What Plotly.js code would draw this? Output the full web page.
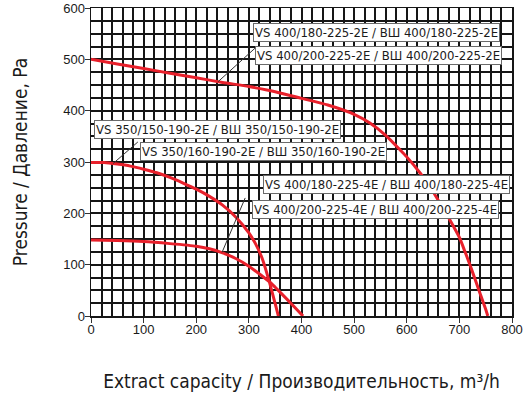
<!DOCTYPE html>
<html>
<head>
<meta charset="utf-8">
<script src="https://cdn.plot.ly/plotly-3.0.1.min.js"></script>
<style>html,body{margin:0;padding:0;background:#fff;}#chart{width:524px;height:400px;}</style>
</head>
<body>
<div id="chart"></div>
<script>
// Curve: VS 400/180-225-2E, VS 400/200-225-2E
const flow2E400 = [0, 50, 100, 150, 200, 250, 300, 350, 400, 450, 500, 530, 560, 587, 600, 625, 650, 663, 682, 700, 710, 720, 730, 740, 750, 754];
const pres2E400 = [500, 491, 482, 473, 464, 455, 447, 437, 424, 411, 393, 376, 352, 324, 310, 279, 242, 220, 187, 153, 127, 100, 71, 42, 13, 0];
// Curve: VS 350/150-190-2E, VS 350/160-190-2E
const flow2E350 = [0, 25, 50, 75, 100, 125, 150, 175, 200, 225, 250, 275, 300, 312, 325, 338, 350, 356];
const pres2E350 = [299, 299, 296, 292, 286, 279, 270, 259, 247, 233, 216, 193, 162, 142, 113, 70, 24, 0];
// Curve: VS 400/180-225-4E, VS 400/200-225-4E
const flow4E400 = [0, 50, 100, 150, 200, 225, 250, 275, 300, 325, 340, 350, 375, 400, 403];
const pres4E400 = [148, 147, 145, 141, 136, 131, 123, 112, 97, 78, 66, 56, 30, 3, 0];

const labels = [
  "VS 400/180-225-2E / ВШ 400/180-225-2E",
  "VS 400/200-225-2E / ВШ 400/200-225-2E",
  "VS 350/150-190-2E / ВШ 350/150-190-2E",
  "VS 350/160-190-2E / ВШ 350/160-190-2E",
  "VS 400/180-225-4E / ВШ 400/180-225-4E",
  "VS 400/200-225-4E / ВШ 400/200-225-4E"
];
const xTickVals = [0, 100, 200, 300, 400, 500, 600, 700, 800];
const yTickVals = [0, 100, 200, 300, 400, 500, 600];

const FONT = "'Liberation Sans Narrow', 'DejaVu Sans Condensed', 'Roboto Condensed', 'Arial Narrow', sans-serif";
const RED = '#e8202b';

const line = {color: RED, width: 3, shape: 'spline', smoothing: 0.6};
const traces = [
  {x: flow2E400, y: pres2E400, mode: 'lines', line: line, hoverinfo: 'skip'},
  {x: flow2E350, y: pres2E350, mode: 'lines', line: line, hoverinfo: 'skip'},
  {x: flow4E400, y: pres4E400, mode: 'lines', line: line, hoverinfo: 'skip'}
];

// label box placements [left x, center y] in data units
const boxPos = [[308, 552], [312, 507], [6, 364], [93, 321], [327, 257], [306, 208]];
const annotations = labels.map((t, i) => ({
  text: t, xref: 'x', yref: 'y', x: boxPos[i][0], y: boxPos[i][1],
  xanchor: 'left', yanchor: 'middle', showarrow: false,
  bgcolor: '#ffffff', bordercolor: '#6a6a6a', borderwidth: 1, borderpad: 1,
  font: {family: FONT, size: 13, color: '#1a1a1a'}
}));

const leader = {color: '#333', width: 1};
const shapes = [
  {type: 'line', xref: 'x', yref: 'y', x0: 312, y0: 522, x1: 241, y1: 456, line: leader},
  {type: 'line', xref: 'x', yref: 'y', x0: 89, y0: 339, x1: 42, y1: 297, line: leader},
  {type: 'line', xref: 'x', yref: 'y', x0: 293, y0: 230, x1: 249, y1: 124, line: leader}
];

const gridColor = '#161616';
const layout = {
  width: 524, height: 400,
  margin: {l: 91, r: 12, t: 8, b: 84},
  paper_bgcolor: '#fff', plot_bgcolor: '#fff',
  showlegend: false,
  font: {family: FONT, color: '#1a1a1a'},
  xaxis: {
    range: [0, 800], tickvals: xTickVals, ticktext: xTickVals.map(String),
    showgrid: true, gridcolor: gridColor, gridwidth: 2,
    minor: {dtick: 20, tick0: 0, showgrid: true, gridcolor: gridColor, gridwidth: 2},
    showline: true, linecolor: '#161616', linewidth: 1.5, mirror: true,
    ticks: 'outside', ticklen: 5, tickcolor: '#333', zeroline: false,
    ticklabelstandoff: -4,
    tickfont: {family: 'Liberation Sans, Arial, sans-serif', size: 13, color: '#1a1a1a'},
    title: {text: 'Extract capacity / Производительность, m³/h', standoff: 38,
            font: {family: FONT, size: 19, color: '#1a1a1a'}},
    fixedrange: true
  },
  yaxis: {
    range: [0, 600], tickvals: yTickVals, ticktext: yTickVals.map(String),
    showgrid: true, gridcolor: gridColor, gridwidth: 2,
    minor: {dtick: 25, tick0: 0, showgrid: true, gridcolor: gridColor, gridwidth: 2},
    showline: true, linecolor: '#161616', linewidth: 1.5, mirror: true,
    ticks: 'outside', ticklen: 5, tickcolor: '#333', zeroline: false,
    ticklabelstandoff: -3,
    tickfont: {family: 'Liberation Sans, Arial, sans-serif', size: 13, color: '#1a1a1a'},
    title: {text: 'Pressure / Давление, Pa', standoff: 30,
            font: {family: FONT, size: 19, color: '#1a1a1a'}},
    fixedrange: true
  },
  annotations: annotations,
  shapes: shapes
};

Plotly.newPlot('chart', traces, layout, {staticPlot: true, displayModeBar: false});
</script>
</body>
</html>
